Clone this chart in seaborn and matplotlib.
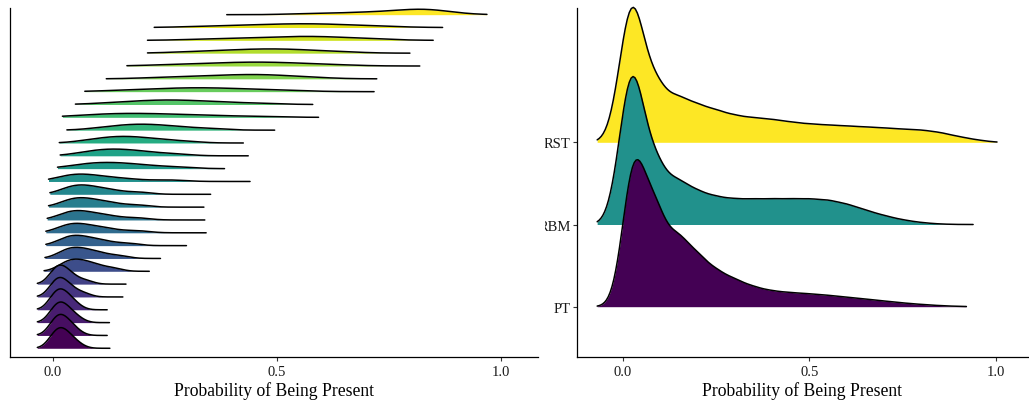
import numpy as np
import matplotlib
matplotlib.use("Agg")
import matplotlib.pyplot as plt
from matplotlib.transforms import Bbox, TransformedBbox
import seaborn as sns

# ---------------------------------------------------------------------------
# Left panel: predicted probability of presence, one ridge per species
# (row 1 at the bottom, row 27 at the top).  Each list holds representative
# predicted values for that species.
# ---------------------------------------------------------------------------
left_samples = [
    [0.000, 0.003, 0.008, 0.012, 0.017, 0.022, 0.027, 0.033, 0.041, 0.055],
    [0.000, 0.003, 0.008, 0.012, 0.016, 0.021, 0.026, 0.032, 0.040, 0.052],
    [0.000, 0.004, 0.008, 0.012, 0.017, 0.022, 0.027, 0.033, 0.042, 0.056],
    [0.000, 0.003, 0.007, 0.011, 0.016, 0.021, 0.026, 0.032, 0.040, 0.052],
    [0.000, 0.003, 0.008, 0.012, 0.017, 0.022, 0.028, 0.036, 0.048, 0.070],
    [0.000, 0.004, 0.008, 0.013, 0.018, 0.023, 0.030, 0.038, 0.050, 0.075],
    [0.017, 0.030, 0.039, 0.048, 0.057, 0.067, 0.078, 0.091, 0.108, 0.137],
    [0.017, 0.030, 0.039, 0.049, 0.059, 0.070, 0.082, 0.097, 0.116, 0.150],
    [0.018, 0.031, 0.040, 0.050, 0.061, 0.073, 0.087, 0.104, 0.127, 0.170],
    [0.018, 0.031, 0.040, 0.051, 0.063, 0.076, 0.092, 0.111, 0.138, 0.190],
    [0.020, 0.033, 0.043, 0.054, 0.066, 0.079, 0.095, 0.114, 0.140, 0.190],
    [0.024, 0.038, 0.049, 0.060, 0.072, 0.085, 0.100, 0.118, 0.143, 0.190],
    [0.025, 0.039, 0.050, 0.061, 0.073, 0.086, 0.101, 0.120, 0.146, 0.195],
    [0.020, 0.035, 0.047, 0.060, 0.075, 0.092, 0.113, 0.140, 0.180, 0.260],
    [0.042, 0.072, 0.091, 0.109, 0.127, 0.146, 0.166, 0.191, 0.222, 0.278],
    [0.061, 0.089, 0.108, 0.124, 0.141, 0.158, 0.177, 0.199, 0.228, 0.278],
    [0.073, 0.105, 0.126, 0.143, 0.159, 0.177, 0.196, 0.218, 0.247, 0.297],
    [0.103, 0.138, 0.162, 0.181, 0.199, 0.218, 0.239, 0.264, 0.296, 0.352],
    [0.067, 0.110, 0.137, 0.164, 0.194, 0.224, 0.258, 0.297, 0.349, 0.438],
    [0.126, 0.176, 0.208, 0.235, 0.258, 0.283, 0.311, 0.343, 0.384, 0.457],
    [0.149, 0.216, 0.256, 0.288, 0.316, 0.345, 0.376, 0.411, 0.454, 0.527],
    [0.233, 0.306, 0.349, 0.384, 0.415, 0.441, 0.465, 0.491, 0.523, 0.578],
    [0.253, 0.326, 0.369, 0.404, 0.435, 0.464, 0.492, 0.524, 0.564, 0.631],
    [0.299, 0.366, 0.406, 0.438, 0.466, 0.493, 0.519, 0.547, 0.584, 0.645],
    [0.336, 0.415, 0.462, 0.500, 0.534, 0.563, 0.589, 0.617, 0.654, 0.715],
    [0.336, 0.415, 0.462, 0.500, 0.534, 0.564, 0.592, 0.624, 0.664, 0.731],
    [0.570, 0.655, 0.706, 0.746, 0.782, 0.806, 0.819, 0.834, 0.852, 0.882],
]
# range over which each species' density is evaluated
left_start = [-0.035, -0.035, -0.035, -0.035, -0.035, -0.035, -0.020, -0.018,
              -0.016, -0.016, -0.013, -0.010, -0.007, -0.010, 0.010, 0.016,
              0.014, 0.031, 0.021, 0.050, 0.071, 0.119, 0.165, 0.211, 0.211,
              0.226, 0.388]
left_end = [0.127, 0.121, 0.126, 0.121, 0.156, 0.163, 0.215, 0.240, 0.298,
            0.342, 0.339, 0.337, 0.352, 0.440, 0.383, 0.436, 0.425, 0.495,
            0.593, 0.580, 0.717, 0.723, 0.819, 0.797, 0.849, 0.870, 0.969]

# ---------------------------------------------------------------------------
# Right panel: predictions pooled by method, as binned shares of sites
# ---------------------------------------------------------------------------
method_names = ["PT", "RBM", "RST"]
prob_bins = [0.0, 0.025, 0.05, 0.075, 0.1, 0.15, 0.2, 0.25, 0.3, 0.35, 0.4,
             0.45, 0.5, 0.55, 0.6, 0.65, 0.7, 0.75, 0.8, 0.85, 0.9, 0.95, 1.0]
pt_share = [0, 100, 32, 38, 48, 50, 36, 24.8, 18.6, 13.4, 10.5, 9.4, 8.6,
            7.6, 6.4, 5.1, 3.8, 2.5, 1.5, 0.7, 0.2, 0, 0]
rbm_share = [34, 95, 32, 22, 33, 31.7, 23.4, 19.3, 17.6, 17.6, 17.7, 17.7,
             17.7, 17.0, 14.3, 10.0, 6.2, 3.2, 1.3, 0.3, 0, 0, 0]
rst_share = [31, 92, 29, 20, 33.8, 33.7, 27.5, 23.4, 19.3, 17.6, 16.5, 14.5,
             13.1, 12.4, 11.7, 11.0, 10.3, 9.4, 8.9, 7.2, 4.1, 1.7, 0]
method_start = [-0.068, -0.068, -0.068]
method_end = [0.921, 0.939, 1.003]

# ---------------------------------------------------------------------------
sns.set_theme(style="ticks")
plt.rcParams["font.family"] = ["Liberation Serif", "DejaVu Serif"]
plt.rcParams["axes.edgecolor"] = "black"

FIG_W, FIG_H = 1029, 402
fig = plt.figure(figsize=(FIG_W / 100, FIG_H / 100), dpi=100)
fig.patch.set_facecolor("white")

RIDGE_LW = 1.1


def px_axes(x0, y0, x1, y1):
    return fig.add_axes([x0 / FIG_W, 1 - y1 / FIG_H,
                         (x1 - x0) / FIG_W, (y1 - y0) / FIG_H])


def style_panel(ax, xlim, ylim):
    ax.set_xlim(*xlim)
    ax.set_ylim(*ylim)
    ax.set_facecolor("white")
    for s in ("top", "right"):
        ax.spines[s].set_visible(False)
    for s in ("left", "bottom"):
        ax.spines[s].set_linewidth(0.9)
        ax.spines[s].set_color("black")
    ax.set_xticks([0.0, 0.5, 1.0])
    ax.set_xticklabels(["0.0", "0.5", "1.0"])
    ax.tick_params(axis="both", length=3, width=0.8, color="#333333",
                   labelsize=10.5, labelcolor="#1a1a1a")
    ax.tick_params(axis="x", pad=2.5)
    ax.tick_params(axis="y", pad=1.5)
    ax.set_xlabel("Probability of Being Present", fontsize=12.7,
                  labelpad=2.5, color="black")
    ax.set_ylabel("")


def ridge_axes(ax, base, height):
    x0, x1 = ax.get_xlim()
    r = ax.inset_axes([x0, base, x1 - x0, height], transform=ax.transData)
    r.set_xlim(x0, x1)
    r.set_axis_off()
    return r


def finish_ridge(r):
    # keep the baseline part of the outline at full width
    for artist in list(r.lines) + list(r.collections):
        artist.set_clip_on(False)
    r.set_xlabel("")
    r.set_ylabel("")
    r.set_xticks([])
    r.set_yticks([])


def joint_scale(rows, height, peak_units):
    top = max(line.get_ydata().max() for r in rows for line in r.lines)
    for r in rows:
        r.set_ylim(0, top * height / peak_units)


def nrd0(x):
    sd = x.std(ddof=1)
    q75, q25 = np.percentile(x, [75, 25])
    return 0.9 * min(sd, (q75 - q25) / 1.34) * len(x) ** -0.2


# ---- left panel ----
ax_left = px_axes(10, 9, 538, 358)
style_panel(ax_left, (-0.096, 1.083), (0.32, 27.52))
ax_left.set_yticks([])

MIN_BW = 0.017
left_colors = plt.get_cmap("viridis")(np.linspace(0, 1, len(left_samples)))
left_rows = []
for i in reversed(range(len(left_samples))):
    vals = np.asarray(left_samples[i], dtype=float)
    bw = max(MIN_BW, nrd0(vals))
    kw = dict(x=vals, bw_method=bw / vals.std(ddof=1), cut=10,
              clip=(left_start[i], left_end[i]))
    r = ridge_axes(ax_left, i + 1, 3.0)
    sns.kdeplot(ax=r, fill=True, color=left_colors[i], alpha=1,
                linewidth=0, **kw)
    sns.kdeplot(ax=r, color="black", linewidth=RIDGE_LW, **kw)
    finish_ridge(r)
    left_rows.append(r)
joint_scale(left_rows, 3.0, 1.64)

# ---- right panel ----
ax_right = px_axes(577, 9, 1028, 358)
style_panel(ax_right, (-0.122, 1.086), (0.388, 4.634))
ax_right.set_yticks([1, 2, 3])
ax_right.set_yticklabels(method_names)

KERNEL_BW = 0.029
method_colors = plt.get_cmap("viridis")(np.linspace(0, 1, len(method_names)))
shares = [pt_share, rbm_share, rst_share]
grid = np.asarray(prob_bins, dtype=float)
right_rows = []
for i in reversed(range(len(method_names))):
    w = np.asarray(shares[i], dtype=float)
    sd = np.sqrt(np.cov(grid, aweights=w))
    kw = dict(x=grid, weights=w, bw_method=KERNEL_BW / sd, cut=10,
              clip=(method_start[i], method_end[i]))
    r = ridge_axes(ax_right, i + 1, 2.0)
    sns.kdeplot(ax=r, fill=True, color=method_colors[i], alpha=1,
                linewidth=0, **kw)
    sns.kdeplot(ax=r, color="black", linewidth=RIDGE_LW, **kw)
    finish_ridge(r)
    right_rows.append(r)
joint_scale(right_rows, 2.0, 1.80)

# method labels are clipped at the panel's left border
clip = TransformedBbox(Bbox.from_extents(545 / FIG_W, 0, 1, 1),
                       fig.transFigure)
for t in ax_right.get_yticklabels():
    t.set_clip_box(clip)
    t.set_clip_on(True)

fig.savefig("out.png", dpi=100, facecolor="white")
